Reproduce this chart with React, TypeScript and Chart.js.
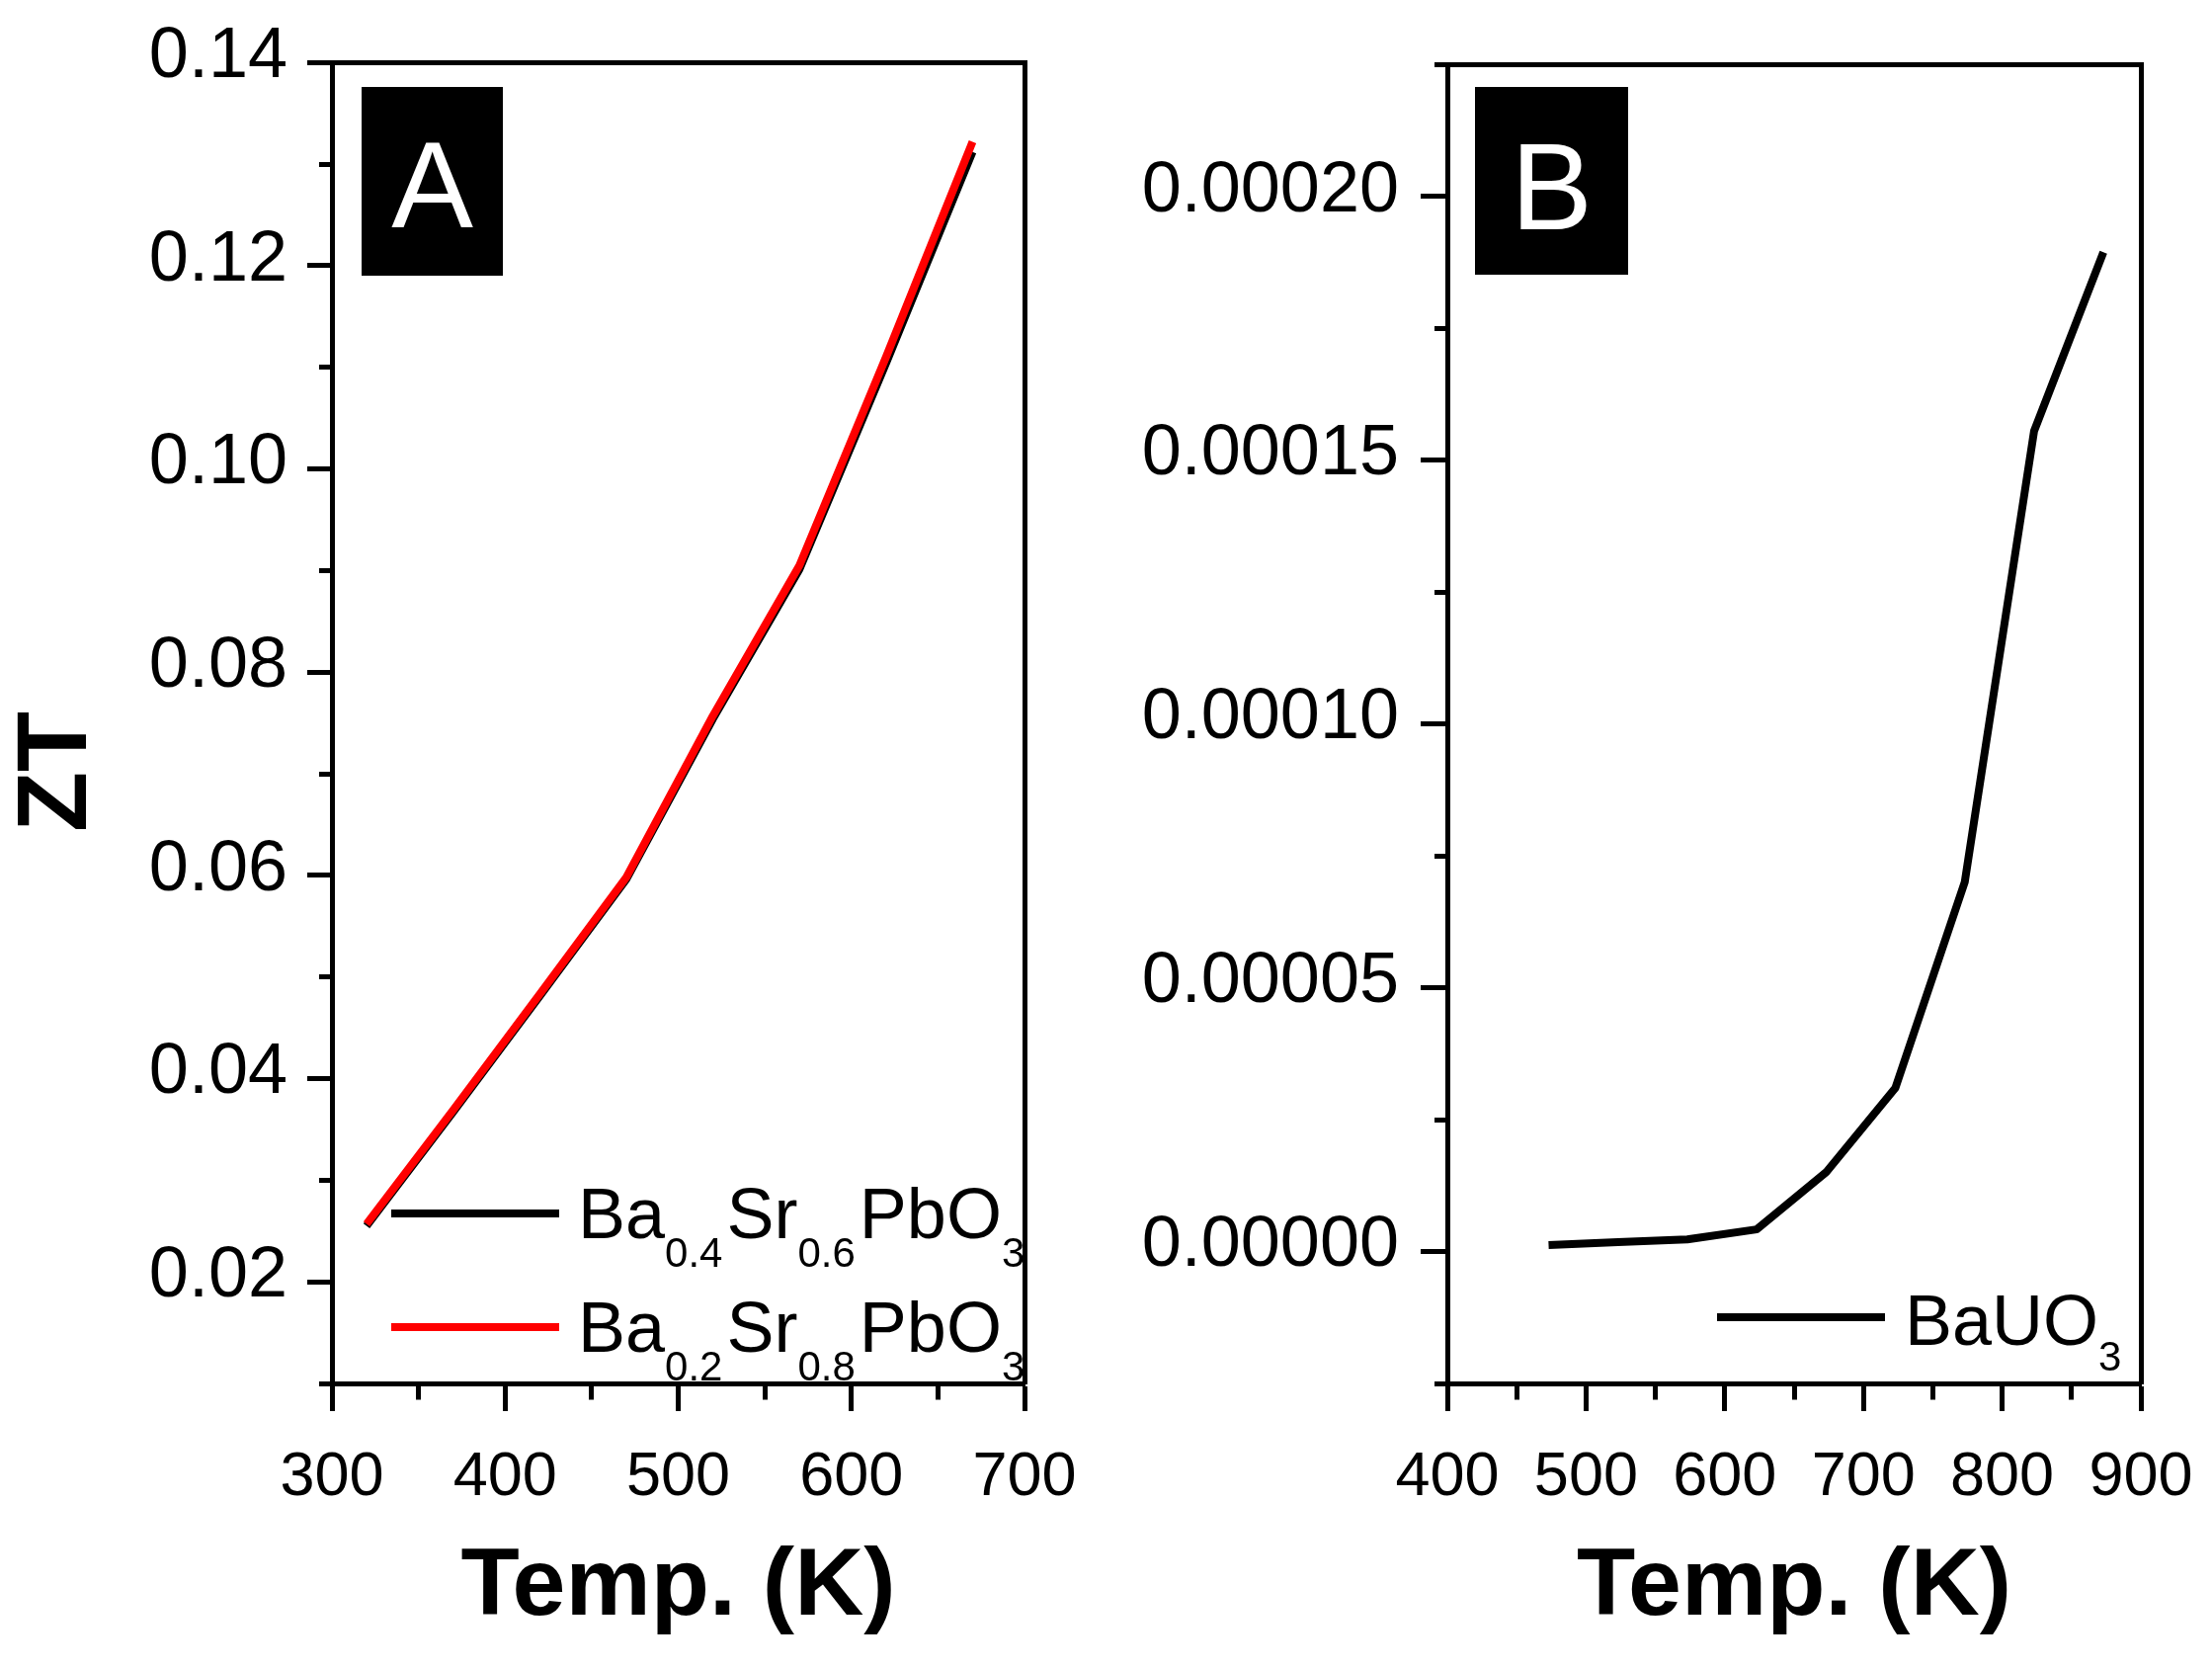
import { useEffect, useRef } from "react"
import { Chart, registerables } from "chart.js"

Chart.register(...registerables)

const FONT = "'Liberation Sans', Arial, Helvetica, sans-serif"

// panel A: Ba(x)Sr(1-x)PbO3
const tempA = [320, 370, 420, 470, 520, 570, 620, 670]
const ztBa04 = [0.0255, 0.0367, 0.0481, 0.0596, 0.0754, 0.0901, 0.1104, 0.1312]
const ztBa02 = [0.0257, 0.0369, 0.0483, 0.0598, 0.0757, 0.0905, 0.111, 0.1322]

// panel B: BaUO3
const tempB = [473, 523, 573, 623, 673, 723, 773, 823, 873]
const ztBaUO3 = [0.0000012, 0.0000018, 0.0000023, 0.0000042, 0.000015, 0.000031, 0.00007, 0.0001555, 0.0001894]

// ticks
const xMajorA = [300, 400, 500, 600, 700]
const xMinorA = [350, 450, 550, 650]
const yMajorA = [0.02, 0.04, 0.06, 0.08, 0.1, 0.12, 0.14]
const yMinorA = [0.01, 0.03, 0.05, 0.07, 0.09, 0.11, 0.13]
const xMajorB = [400, 500, 600, 700, 800, 900]
const xMinorB = [450, 550, 650, 750, 850]
const yMajorB = [0, 0.00005, 0.0001, 0.00015, 0.0002]
const yMinorB = [-0.000025, 0.000025, 0.000075, 0.000125, 0.000175, 0.000225]

const toPoints = (xs: number[], ys: number[]) => xs.map((x, i) => ({ x, y: ys[i] }))

const setTicks = (majors: number[], minors: number[]) => (scale: any) => {
  scale.ticks = [...majors, ...minors].sort((a, b) => a - b).map((value) => ({ value }))
}

// draws the letter badge, the rotated y title and the legend with subscripts
const decor = {
  id: "decor",
  afterDraw(chart: any, _args: any, opts: any) {
    const { ctx } = chart
    ctx.save()
    if (opts.badge) {
      const b = opts.badge
      ctx.fillStyle = "#000"
      ctx.fillRect(b.x, b.y, b.w, b.h)
      ctx.fillStyle = "#fff"
      ctx.font = `${b.size}px ${FONT}`
      ctx.textAlign = "center"
      ctx.textBaseline = "alphabetic"
      ctx.fillText(b.text, b.x + b.w / 2, b.baseline)
    }
    if (opts.yTitle) {
      const t = opts.yTitle
      ctx.save()
      ctx.translate(t.x, t.y)
      ctx.rotate(-Math.PI / 2)
      ctx.fillStyle = "#000"
      ctx.font = `bold ${t.size}px ${FONT}`
      ctx.textAlign = "center"
      ctx.textBaseline = "middle"
      ctx.fillText(t.text, 0, 0)
      ctx.restore()
    }
    if (opts.legend) {
      const lg = opts.legend
      chart.data.datasets.forEach((ds: any, i: number) => {
        const y = lg.rows[i]
        ctx.strokeStyle = ds.borderColor
        ctx.lineWidth = ds.borderWidth
        ctx.lineCap = "butt"
        ctx.beginPath()
        ctx.moveTo(lg.x, y)
        ctx.lineTo(lg.x + lg.lineLen, y)
        ctx.stroke()
        ctx.fillStyle = "#000"
        ctx.textAlign = "left"
        ctx.textBaseline = "alphabetic"
        let x = lg.x + lg.lineLen + lg.gap
        // numbers in the label are written as subscripts
        const tokens = String(ds.label).split(/(\d+(?:\.\d+)?)/)
        tokens.forEach((p, k) => {
          if (!p) return
          const sub = k % 2 === 1
          ctx.font = `${sub ? lg.subSize : lg.size}px ${FONT}`
          ctx.fillText(p, x, y + lg.baseDrop + (sub ? lg.subDrop : 0))
          x += ctx.measureText(p).width + (sub ? lg.subGap : 0)
        })
      })
    }
    ctx.restore()
  },
}

function panelConfig(p: {
  datasets: any[]
  xMajor: number[]
  xMinor: number[]
  yMajor: number[]
  yMinor: number[]
  xMin: number
  xMax: number
  yMin: number
  yMax: number
  yDigits: number
  yWidth: number
  yTick: number
  yPad: number
  rightPad: number
  decor: any
}): any {
  const minorX = (ctx: any) => ctx.tick && !p.xMajor.includes(ctx.tick.value)
  const minorY = (ctx: any) => ctx.tick && !p.yMajor.includes(ctx.tick.value)
  return {
    type: "line",
    data: { datasets: p.datasets },
    options: {
      animation: false,
      responsive: false,
      devicePixelRatio: 1,
      layout: { padding: { top: 59, right: p.rightPad, bottom: 0, left: 0 } },
      elements: { point: { radius: 0 }, line: { tension: 0, borderJoinStyle: "round" } },
      plugins: { legend: { display: false }, tooltip: { enabled: false }, decor: p.decor },
      scales: {
        x: {
          type: "linear",
          position: "bottom",
          min: p.xMin,
          max: p.xMax,
          afterBuildTicks: setTicks(p.xMajor, p.xMinor),
          afterFit: (s: any) => {
            s.height = 289
          },
          grid: {
            drawOnChartArea: false,
            drawTicks: true,
            tickLength: 28,
            tickWidth: 5,
            tickColor: "#000",
            tickBorderDash: (ctx: any) => (minorX(ctx) ? [13.5, 100] : []),
          },
          border: { display: true, width: 5, color: "#000" },
          ticks: {
            autoSkip: false,
            maxRotation: 0,
            padding: 0,
            color: "#000",
            font: { size: 63, family: FONT, lineHeight: "135px" },
            callback: (v: number) => (p.xMajor.includes(v) ? String(v) : ""),
          },
          title: {
            display: true,
            text: "Temp. (K)",
            color: "#000",
            font: { size: 97, weight: "bold", family: FONT },
            padding: { top: 0, bottom: 24 },
          },
        },
        y: {
          type: "linear",
          position: "left",
          min: p.yMin,
          max: p.yMax,
          afterBuildTicks: setTicks(p.yMajor, p.yMinor),
          afterFit: (s: any) => {
            s.width = p.yWidth
          },
          grid: {
            drawOnChartArea: false,
            drawTicks: true,
            tickLength: p.yTick,
            tickWidth: 5,
            tickColor: "#000",
            tickBorderDash: (ctx: any) => (minorY(ctx) ? [0, p.yTick - 13, 100, 0] : []),
          },
          border: { display: true, width: 5, color: "#000" },
          ticks: {
            autoSkip: false,
            padding: p.yPad,
            labelOffset: -5,
            color: "#000",
            font: { size: 72, family: FONT },
            callback: (v: number) => (p.yMajor.includes(v) ? v.toFixed(p.yDigits) : ""),
          },
        },
        x2: {
          type: "linear",
          position: "top",
          afterFit: (s: any) => {
            s.height = 0
          },
          grid: { display: false, drawTicks: false },
          ticks: { display: false },
          border: { display: true, width: 5, color: "#000" },
        },
        y2: {
          type: "linear",
          position: "right",
          afterFit: (s: any) => {
            s.width = 0
          },
          grid: { display: false, drawTicks: false },
          ticks: { display: false },
          border: { display: true, width: 5, color: "#000" },
        },
      },
    },
    plugins: [decor],
  }
}

function Panel({ config, left, width }: { config: any; left: number; width: number }) {
  const canvasRef = useRef<HTMLCanvasElement>(null)
  const chartInstance = useRef<Chart | null>(null)

  useEffect(() => {
    if (!canvasRef.current) return
    if (chartInstance.current) chartInstance.current.destroy()
    chartInstance.current = new Chart(canvasRef.current, config)
    return () => {
      if (chartInstance.current) {
        chartInstance.current.destroy()
        chartInstance.current = null
      }
    }
  }, [config])

  return (
    <canvas
      ref={canvasRef}
      width={width}
      height={1689}
      style={{ position: "absolute", left, top: 0, width, height: 1689 }}
    />
  )
}

const configA = panelConfig({
  datasets: [
    {
      label: "Ba0.4Sr0.6PbO3",
      data: toPoints(tempA, ztBa04),
      borderColor: "#000000",
      borderWidth: 8,
      order: 1,
    },
    {
      label: "Ba0.2Sr0.8PbO3",
      data: toPoints(tempA, ztBa02),
      borderColor: "#ff0000",
      borderWidth: 8,
      order: 0,
    },
  ],
  xMajor: xMajorA,
  xMinor: xMinorA,
  yMajor: yMajorA,
  yMinor: yMinorA,
  xMin: 300,
  xMax: 700,
  yMin: 0.01,
  yMax: 0.14,
  yDigits: 2,
  yWidth: 336,
  yTick: 25,
  yPad: 20,
  rightPad: 63,
  decor: {
    badge: { text: "A", x: 366, y: 88, w: 143, h: 191, size: 124, baseline: 230 },
    yTitle: { text: "ZT", x: 59, y: 781, size: 100 },
    legend: { x: 396, rows: [1228, 1343], lineLen: 170, gap: 19, size: 72, subSize: 42, baseDrop: 25, subDrop: 29, subGap: 4 },
  },
})

const configB = panelConfig({
  datasets: [
    {
      label: "BaUO3",
      data: toPoints(tempB, ztBaUO3),
      borderColor: "#000000",
      borderWidth: 8,
    },
  ],
  xMajor: xMajorB,
  xMinor: xMinorB,
  yMajor: yMajorB,
  yMinor: yMinorB,
  xMin: 400,
  xMax: 900,
  yMin: -0.000025,
  yMax: 0.000225,
  yDigits: 5,
  yWidth: 365,
  yTick: 27,
  yPad: 22,
  rightPad: 72,
  decor: {
    badge: { text: "B", x: 393, y: 88, w: 155, h: 190, size: 124, baseline: 232 },
    legend: { x: 638, rows: [1333], lineLen: 170, gap: 20, size: 72, subSize: 42, baseDrop: 28, subDrop: 26, subGap: 4 },
  },
})

export default function App() {
  return (
    <div style={{ position: "fixed", left: 0, top: 0, width: 2239, height: 1689, background: "#fff", overflow: "hidden" }}>
      <Panel config={configA} left={0} width={1100} />
      <Panel config={configB} left={1100} width={1139} />
    </div>
  )
}
